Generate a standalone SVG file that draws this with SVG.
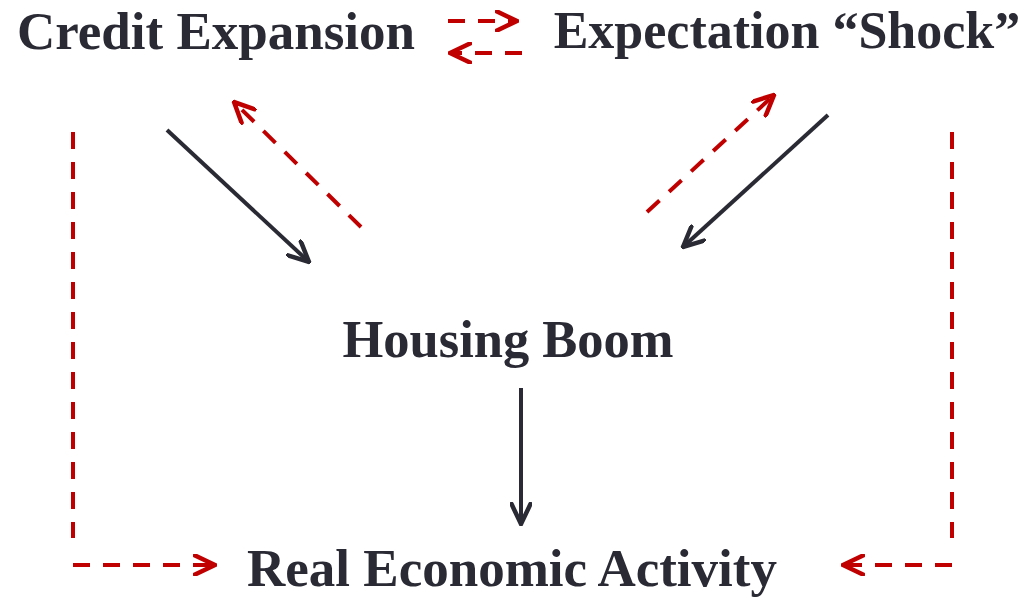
<svg xmlns="http://www.w3.org/2000/svg" width="1028" height="597" viewBox="0 0 1028 597">
  <defs>
    <style>
      .label { font-family: "Liberation Serif", "Times New Roman", serif; font-weight: bold; font-size: 53px; fill: #2a2a35; text-anchor: middle; }
      .solid { stroke: #2a2a35; stroke-width: 4; fill: none; }
      .dash { stroke: #c00000; stroke-width: 4; fill: none; stroke-dasharray: 17 13; }
    </style>
    <marker id="headDark" viewBox="-22 -11 24 22" markerWidth="24" markerHeight="22" refX="0" refY="0" orient="auto" markerUnits="userSpaceOnUse">
      <path d="M-20,-9.5 L0,0 L-20,9.5" fill="none" stroke="#2a2a35" stroke-width="4.5" stroke-linecap="round" stroke-linejoin="miter"/>
    </marker>
    <marker id="headRed" viewBox="-22 -11 24 22" markerWidth="24" markerHeight="22" refX="0" refY="0" orient="auto" markerUnits="userSpaceOnUse">
      <path d="M-20,-9.5 L0,0 L-20,9.5" fill="none" stroke="#c00000" stroke-width="4.5" stroke-linecap="round" stroke-linejoin="miter"/>
    </marker>
  </defs>
  <rect width="1028" height="597" fill="#ffffff"/>

  <g id="credit-expansion">
    <text class="label" x="216" y="49">Credit Expansion</text>
  </g>
  <g id="expectation-shock">
    <text class="label" x="787" y="48" style="font-size:52px">Expectation “Shock”</text>
  </g>
  <g id="housing-boom">
    <text class="label" x="508" y="357" style="font-size:52.5px">Housing Boom</text>
  </g>
  <g id="real-economic-activity">
    <text class="label" x="512" y="586">Real Economic Activity</text>
  </g>

  <g id="connectors">
    <!-- two-way dashed link between the top nodes -->
    <line class="dash" x1="448" y1="21" x2="517" y2="21" marker-end="url(#headRed)"/>
    <line class="dash" x1="522" y1="53" x2="450" y2="53" marker-end="url(#headRed)"/>

    <!-- left diagonal pair -->
    <line class="solid" x1="167" y1="130" x2="309" y2="262" marker-end="url(#headDark)"/>
    <line class="dash" x1="361" y1="227" x2="234" y2="102" marker-end="url(#headRed)"/>

    <!-- right diagonal pair -->
    <line class="dash" x1="647" y1="212" x2="774" y2="95" marker-end="url(#headRed)"/>
    <line class="solid" x1="828" y1="115" x2="683" y2="247" marker-end="url(#headDark)"/>

    <!-- housing boom to real activity -->
    <line class="solid" x1="521" y1="388" x2="521" y2="524" marker-end="url(#headDark)"/>

    <!-- outer dashed feedback paths -->
    <line class="dash" x1="73" y1="132" x2="73" y2="538"/>
    <line class="dash" x1="73" y1="565" x2="215" y2="565" marker-end="url(#headRed)"/>
    <line class="dash" x1="952" y1="132" x2="952" y2="538"/>
    <line class="dash" x1="952" y1="565" x2="843" y2="565" marker-end="url(#headRed)"/>
  </g>
</svg>
